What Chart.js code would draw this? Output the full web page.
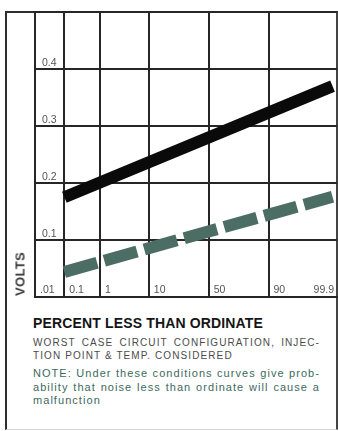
<!DOCTYPE html>
<html>
<head>
<meta charset="utf-8">
<script src="https://cdn.jsdelivr.net/npm/chart.js@4"></script>
<style>
  html, body { margin: 0; padding: 0; background: #fff; }
  body { width: 338px; height: 431px; position: relative; overflow: hidden; font-family: "Liberation Sans", Arial, sans-serif; }
  #frame { position: absolute; left: 5px; top: 11px; width: 333px; height: 419px; box-sizing: border-box;
           border-left: 2px solid #2e2e2e; border-top: 2px solid #2e2e2e; border-right: 2px solid #444; border-bottom: 1px solid #d4d4d4; }
  #chart { position: absolute; left: 0; top: 0; }
  .volts { position: absolute; left: 20px; top: 274px; transform: translate(-50%, -50%) rotate(-90deg);
           font: bold 13px "Liberation Sans", Arial, sans-serif; color: #3a3a3a; letter-spacing: 0.3px; }
  .txt { position: absolute; left: 33px; width: 287px; }
  .title { top: 315px; font: bold 14px/16px "Liberation Sans", Arial, sans-serif; color: #151515; letter-spacing: 0.15px; }
  .line { text-align: justify; text-align-last: justify; white-space: nowrap; }
  .last { text-align-last: left; }
  .sub { top: 335.5px; font: 10px/13.3px "Liberation Sans", Arial, sans-serif; color: #4b4b4b; letter-spacing: 1.1px; }
  .note { top: 367px; font: 11px/13.5px "Liberation Sans", Arial, sans-serif; color: #3d6a5e; letter-spacing: 1.05px; }
</style>
</head>
<body>
<div id="frame"></div>
<canvas id="chart" width="338" height="300"></canvas>
<div class="volts">VOLTS</div>
<div class="txt title">PERCENT LESS THAN ORDINATE</div>
<div class="txt sub">
  <div class="line">WORST CASE CIRCUIT CONFIGURATION, INJEC-</div>
  <div class="line last">TION POINT &amp; TEMP. CONSIDERED</div>
</div>
<div class="txt note">
  <div class="line">NOTE: Under these conditions curves give prob-</div>
  <div class="line">ability that noise less than ordinate will cause a</div>
  <div class="line last">malfunction</div>
</div>
<script>
// percent-less-than values on the probability axis
const xTickPct = [0.01, 0.1, 1, 10, 50, 90, 99.9];
const xTickLabels = ['.01', '0.1', '1', '10', '50', '90', '99.9'];
const xMinPct = 0.01;
const xMaxPct = 99.7;

const yTicks = [0.1, 0.2, 0.3, 0.4];
const yMax = 0.5;

// worst case curve (solid) and dashed curve
const solidPct = [0.1, 99.6];
const solidVolts = [0.175, 0.37];
const dashedPct = [0.1, 99.6];
const dashedVolts = [0.044, 0.176];

// inverse normal CDF, for the probability-paper x axis
function probit(p) {
    const a = [-3.969683028665376e+01, 2.209460984245205e+02, -2.759285104469687e+02, 1.383577518672690e+02, -3.066479806614716e+01, 2.506628277459239e+00];
    const b = [-5.447609879822406e+01, 1.615858368580409e+02, -1.556989798598866e+02, 6.680131188771972e+01, -1.328068155288572e+01];
    const c = [-7.784894002430293e-03, -3.223964580411365e-01, -2.400758277161838e+00, -2.549732539343734e+00, 4.374664141464968e+00, 2.938163982698783e+00];
    const d = [7.784695709041462e-03, 3.224671290700398e-01, 2.445134137142996e+00, 3.754408661907416e+00];
    const pl = 0.02425;
    let q, r;
    if (p < pl) {
        q = Math.sqrt(-2 * Math.log(p));
        return (((((c[0]*q+c[1])*q+c[2])*q+c[3])*q+c[4])*q+c[5]) / ((((d[0]*q+d[1])*q+d[2])*q+d[3])*q+1);
    }
    if (p <= 1 - pl) {
        q = p - 0.5; r = q * q;
        return (((((a[0]*r+a[1])*r+a[2])*r+a[3])*r+a[4])*r+a[5])*q / (((((b[0]*r+b[1])*r+b[2])*r+b[3])*r+b[4])*r+1);
    }
    q = Math.sqrt(-2 * Math.log(1 - p));
    return -(((((c[0]*q+c[1])*q+c[2])*q+c[3])*q+c[4])*q+c[5]) / ((((d[0]*q+d[1])*q+d[2])*q+d[3])*q+1);
}
const z = (pct) => probit(pct / 100);
const toPoints = (pcts, vals) => pcts.map((p, i) => ({ x: z(p), y: vals[i] }));

const gridColor = '#262626';
const labelFont = '10.5px "Liberation Sans", Arial, sans-serif';

// tick labels sit inside the plot: x ones right of each grid line, y ones above it
const insideLabels = {
    id: 'insideLabels',
    afterDraw(chart) {
        const { ctx, chartArea, scales: { x, y } } = chart;
        ctx.save();
        ctx.font = labelFont;
        ctx.fillStyle = '#555';
        ctx.textBaseline = 'alphabetic';
        xTickPct.forEach((p, i) => {
            const px = x.getPixelForValue(z(p));
            if (px > chartArea.right) {
                ctx.textAlign = 'right';
                ctx.fillText(xTickLabels[i], chartArea.right - 3, chartArea.bottom - 4);
            } else {
                ctx.textAlign = 'left';
                ctx.fillText(xTickLabels[i], px + 5, chartArea.bottom - 4);
            }
        });
        ctx.textAlign = 'left';
        yTicks.forEach(v => {
            ctx.fillText(v.toFixed(1), chartArea.left + 7, y.getPixelForValue(v) - 3);
        });
        ctx.restore();
    }
};

new Chart(document.getElementById('chart'), {
    type: 'line',
    data: {
        datasets: [
            {
                data: toPoints(solidPct, solidVolts),
                borderColor: '#0a0a0a',
                borderWidth: 12,
                borderCapStyle: 'butt',
                pointRadius: 0,
                tension: 0
            },
            {
                data: toPoints(dashedPct, dashedVolts),
                borderColor: '#4b6d64',
                borderWidth: 12,
                borderCapStyle: 'butt',
                borderDash: [34, 7.5],
                pointRadius: 0,
                tension: 0
            }
        ]
    },
    options: {
        responsive: false,
        animation: false,
        layout: { padding: { left: 35, right: 1, top: 12, bottom: 3 } },
        plugins: { legend: { display: false }, tooltip: { enabled: false } },
        scales: {
            x: {
                type: 'linear',
                min: z(xMinPct),
                max: z(xMaxPct),
                afterBuildTicks: (scale) => {
                    scale.ticks = xTickPct.filter(p => p <= xMaxPct).map(p => ({ value: z(p) }));
                },
                ticks: { display: false },
                grid: { color: gridColor, lineWidth: 2, drawTicks: false },
                border: { color: gridColor, width: 2 }
            },
            y: {
                min: 0,
                max: yMax,
                afterBuildTicks: (scale) => {
                    scale.ticks = [0, ...yTicks, yMax].map(v => ({ value: v }));
                },
                ticks: { display: false },
                grid: { color: gridColor, lineWidth: 2, drawTicks: false },
                border: { color: gridColor, width: 2 }
            }
        }
    },
    plugins: [insideLabels]
});
</script>
</body>
</html>
